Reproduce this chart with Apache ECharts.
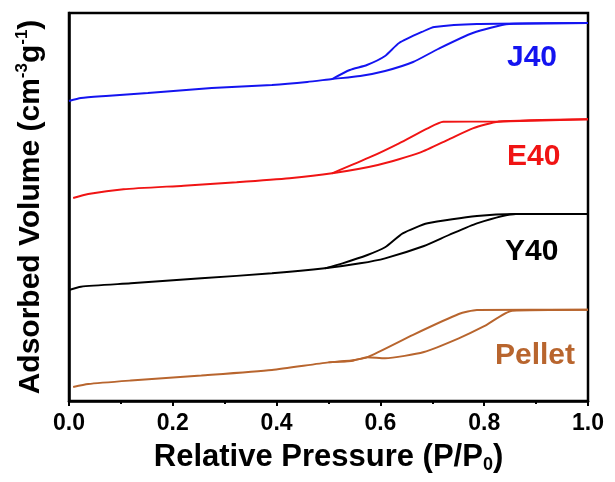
<!DOCTYPE html>
<html>
<head>
<meta charset="utf-8">
<script src="https://cdn.jsdelivr.net/npm/echarts@6/dist/echarts.min.js"></script>
<style>html,body{margin:0;padding:0;background:#fff}#c{width:615px;height:482px}</style>
</head>
<body>
<div id="c"></div>
<script>
// x tick labels
const xTicks = [0.0, 0.2, 0.4, 0.6, 0.8, 1.0];
// [P/P0, volume (arbitrary offset units)]
const j40Ads = [[0.0,300],[0.023,303],[0.071,305],[0.152,308],[0.275,313],[0.391,316],[0.459,319],[0.507,322],[0.561,325],[0.609,330],[0.663,339],[0.711,352],[0.778,368],[0.848,377],[1.0,378]];
const j40Des = [[1.0,378],[0.786,377],[0.704,374],[0.684,370],[0.636,358],[0.609,345],[0.574,336],[0.541,331],[0.507,322]];
const e40Ads = [[0.008,203],[0.037,207],[0.105,211.7],[0.221,215.3],[0.323,218.7],[0.425,222.7],[0.507,227.7],[0.595,236],[0.676,248.3],[0.732,261.7],[0.778,272.7],[0.827,279.3],[1.0,281.7]];
const e40Des = [[1.0,281.7],[0.827,279.5],[0.721,279.3],[0.691,272.7],[0.636,257.7],[0.582,244.3],[0.507,227.7]];
const y40Ads = [[0.0,111],[0.023,114.3],[0.119,117.7],[0.255,122.7],[0.391,127.7],[0.493,132.7],[0.561,137.7],[0.609,142.7],[0.684,155],[0.732,166],[0.786,177.7],[0.861,187],[1.0,187]];
const y40Des = [[1.0,187],[0.861,187],[0.786,185],[0.691,177.7],[0.643,167.7],[0.609,153.7],[0.575,146],[0.527,137.7],[0.493,132.7]];
const pelAds = [[0.008,14],[0.037,17],[0.119,20.5],[0.255,25.5],[0.391,31],[0.5,38.6],[0.547,40.3],[0.575,43.8],[0.609,42.7],[0.684,49],[0.751,62.7],[0.800,74.8],[0.854,90.3],[1.0,91.3]];
const pelDes = [[1.0,91.3],[0.786,91],[0.751,87],[0.663,66.2],[0.575,43.8],[0.547,40.8],[0.5,38.6]];

const colors = {J40:'#1414f0', E40:'#f01414', Y40:'#000000', Pellet:'#b8652e'};

function line(name, data, color){
  return {name, type:'line', data, showSymbol:false, symbol:'none', smooth:0.2,
    lineStyle:{color, width:1.9}, itemStyle:{color}, animation:false};
}

const chart = echarts.init(document.getElementById('c'), null, {renderer:'canvas'});
chart.setOption({
  animation:false,
  grid:{left:69, right:27, top:13, bottom:81, show:true, borderColor:'#000', borderWidth:2.5, backgroundColor:'transparent'},
  xAxis:{type:'value', min:0, max:1, interval:0.2,
    name:'Relative Pressure (P/P{sub|0})', nameLocation:'middle', nameGap:39,
    nameTextStyle:{fontFamily:'Liberation Sans', fontWeight:'bold', fontSize:31, color:'#000',
      rich:{sub:{fontFamily:'Liberation Sans', fontWeight:'bold', fontSize:18, verticalAlign:'bottom', padding:[16,0,0,0], color:'#000'}}},
    axisLine:{show:true, lineStyle:{color:'#000', width:2.5}},
    axisTick:{show:true, inside:false, length:5, lineStyle:{color:'#000', width:2}},
    minorTick:{show:true, splitNumber:2, length:3, lineStyle:{color:'#000', width:2}},
    splitLine:{show:false},
    axisLabel:{margin:11, fontFamily:'Liberation Sans', fontWeight:'bold', fontSize:23, color:'#000',
      formatter:v=>xTicks.includes(Math.round(v*10)/10)?v.toFixed(1):''}
  },
  yAxis:{type:'value', min:0, max:388,
    name:'Adsorbed Volume (cm{sup|-3}g{sup|-1})', nameLocation:'middle', nameGap:22,
    nameTextStyle:{fontFamily:'Liberation Sans', fontWeight:'bold', fontSize:30, color:'#000',
      rich:{sup:{fontFamily:'Liberation Sans', fontWeight:'bold', fontSize:17, verticalAlign:'top', padding:[0,0,16,0], color:'#000'}}},
    axisLine:{show:true, lineStyle:{color:'#000', width:2.5}},
    axisTick:{show:false}, axisLabel:{show:false}, splitLine:{show:false}
  },
  graphic:[
    {type:'text', left:507, top:43, style:{text:'J40', fill:colors.J40, font:'bold 30px "Liberation Sans"'}},
    {type:'text', left:507, top:142, style:{text:'E40', fill:colors.E40, font:'bold 30px "Liberation Sans"'}},
    {type:'text', left:505, top:237, style:{text:'Y40', fill:colors.Y40, font:'bold 30px "Liberation Sans"'}},
    {type:'text', left:495, top:341, style:{text:'Pellet', fill:colors.Pellet, font:'bold 30px "Liberation Sans"'}}
  ],
  series:[
    line('J40 ads', j40Ads, colors.J40), line('J40 des', j40Des, colors.J40),
    line('E40 ads', e40Ads, colors.E40), line('E40 des', e40Des, colors.E40),
    line('Y40 ads', y40Ads, colors.Y40), line('Y40 des', y40Des, colors.Y40),
    line('Pellet ads', pelAds, colors.Pellet), line('Pellet des', pelDes, colors.Pellet)
  ]
});
</script>
</body>
</html>
